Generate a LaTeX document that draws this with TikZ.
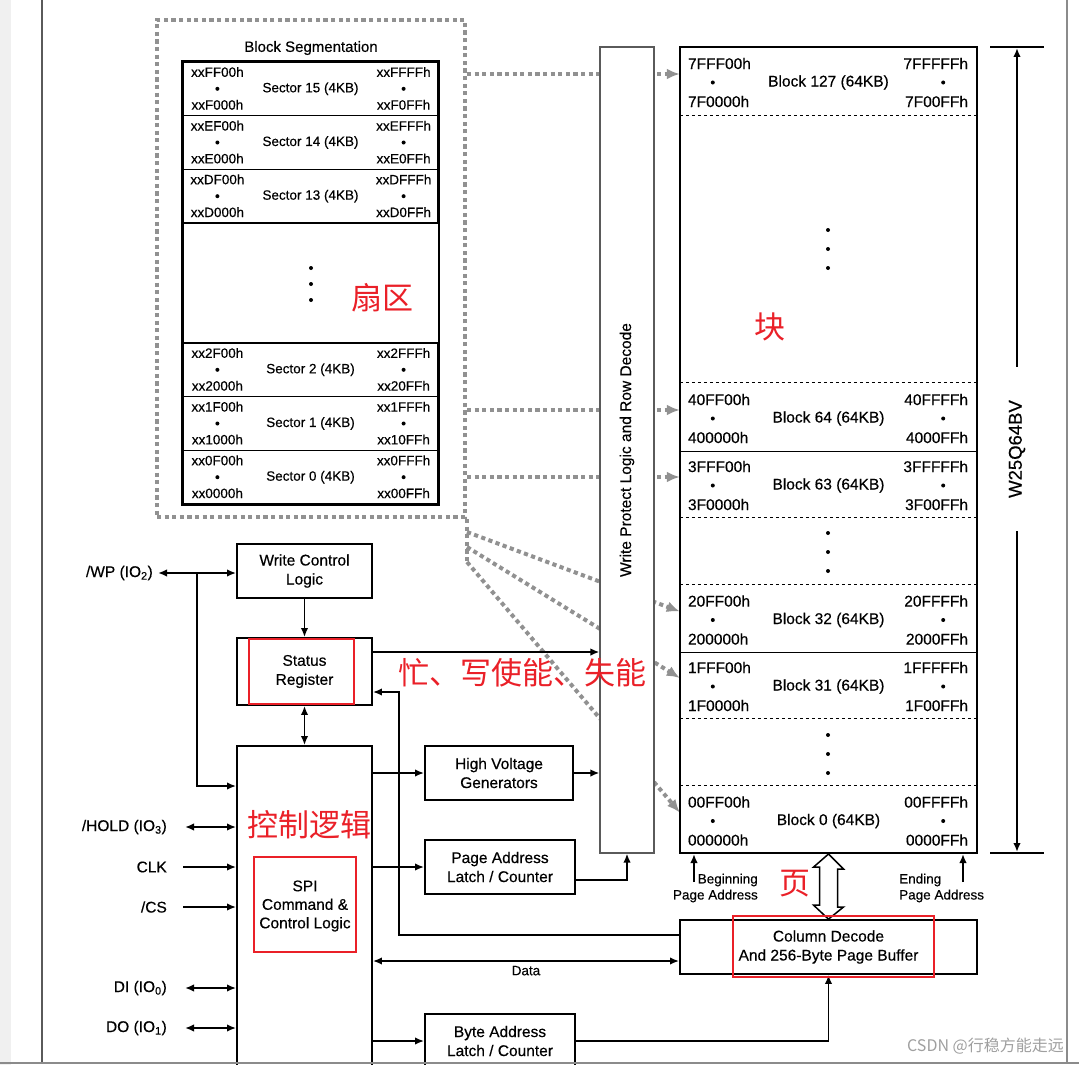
\documentclass[tikz,border=0pt]{standalone}
\usepackage{fontspec}
\setmainfont{Liberation Sans}[FakeBold=0.4]
\newfontfamily\cjk{Noto Sans CJK SC}
\usepackage{tikz}
\usetikzlibrary{arrows.meta,positioning,calc,backgrounds}
\definecolor{markred}{RGB}{234,32,40}
\definecolor{dotgray}{RGB}{145,145,145}
\definecolor{edgegray}{RGB}{90,90,90}
\definecolor{pagegray}{RGB}{240,240,240}
\tikzset{
  box/.style={draw,line width=1.8pt,fill=white,align=center,inner sep=0pt,
    font=\fontsize{15.5}{19}\selectfont},
  arr/.style={line width=1.8pt,-{Latex[length=9pt,width=7.5pt]}},
  dbl/.style={line width=1.8pt,{Latex[length=9pt,width=7.5pt]}-{Latex[length=9pt,width=7.5pt]}},
  dotline/.style={draw=dotgray,line width=4pt,dash pattern=on 4.2pt off 3.4pt},
  dotarr/.style={dotline,-{Latex[length=13pt,width=11pt]}},
  redbox/.style={draw=markred,line width=1.8pt,inner sep=0pt},
  redtxt/.style={text=markred,font=\cjk\fontsize{31}{34}\selectfont,inner sep=0pt},
  sectxt/.style={font=\fontsize{13.5}{16}\selectfont,inner sep=0pt},
  blktxt/.style={font=\fontsize{15.5}{18}\selectfont,inner sep=0pt},
  sigtxt/.style={font=\fontsize{15.5}{18}\selectfont,anchor=east,inner sep=0pt},
}

\begin{document}
\begin{tikzpicture}[x=1pt,y=-1pt]
\useasboundingbox (0,0) rectangle (1079,1065);
\fill[pagegray] (0,0) rectangle (11,1065);
\draw[edgegray,line width=1.3pt] (42,0) -- (42,1063);
\draw[edgegray!70,line width=1.2pt] (1067,0) -- (1067,1063);

\node[dotline,minimum width=308,minimum height=497,inner sep=0pt] (segbox) at (311,268.5) {};
\node[font=\fontsize{15}{17}\selectfont] (segtitle) at (311,48) {Block Segmentation};
\foreach \n/\h/\yc in {15/F/88.8,14/E/142.5,13/D/196.2,2/2/369.8,1/1/423.5,0/0/477.2}{
  \node[draw,line width=1.2pt,minimum width=255,minimum height=53.7,sectxt] (s\n) at (310.5,\yc) {Sector \n\ (4KB)};
  \node[sectxt] at ($(s\n.west)+(35,-16.8)$) {xx\h F00h};
  \node[sectxt] at ($(s\n.west)+(35,16)$) {xx\h 000h};
  \node[sectxt] at ($(s\n.east)+(-35,-16.8)$) {xx\h FFFh};
  \node[sectxt] at ($(s\n.east)+(-35,16)$) {xx\h 0FFh};
  \fill ($(s\n.west)+(35,0)$) circle (2pt) ($(s\n.east)+(-35,0)$) circle (2pt);
}
\draw[line width=2.2pt] (s15.north west) rectangle (s0.south east);
\foreach \y in {268,284,300} \fill (311,\y) circle (2pt);

\node[draw=edgegray,line width=1.2pt,fill=white,minimum width=54,minimum height=806,inner sep=0pt] (wpr) at (627,450) {};
\node[rotate=90,blktxt] at (wpr) {Write Protect Logic and Row Decode};

\node[draw,line width=2pt,fill=white,minimum width=297,minimum height=806,inner sep=0pt] (mem) at (828.5,450) {};
\foreach \bn/\pre/\yc/\hh in {127/7F/81/68,64/40/417/68,63/3F/484/66,32/20/618.5/67,31/1F/685/66,0/00/819.5/67}{
  \node[minimum width=297,minimum height=\hh,inner sep=0pt] (b\bn) at (828.5,\yc) {};
  \coordinate (a\bn) at ($(b\bn.west)+(0,-7)$);
  \node[blktxt] at ($(b\bn.center)+(0,1.5)$) {Block \bn\ (64KB)};
  \node[blktxt,anchor=west] at ($(b\bn.west)+(8,-17.5)$) {\pre FF00h};
  \node[blktxt,anchor=west] at ($(b\bn.west)+(8,20.5)$) {\pre 0000h};
  \node[blktxt,anchor=east] at ($(b\bn.east)+(-9,-17.5)$) {\pre FFFFh};
  \node[blktxt,anchor=east] at ($(b\bn.east)+(-9,20.5)$) {\pre 00FFh};
  \fill ($(b\bn.west)+(33,1.5)$) circle (2pt) ($(b\bn.east)+(-34,1.5)$) circle (2pt);
}
\draw[line width=0.9pt,dash pattern=on 3.5pt off 2.5pt]
  (b127.south west) -- (b127.south east) (b64.north west) -- (b64.north east)
  (b63.south west) -- (b63.south east) (b32.north west) -- (b32.north east)
  (b31.south west) -- (b31.south east) (b0.north west) -- (b0.north east);
\draw[line width=1.2pt] (b64.south west) -- (b64.south east) (b32.south west) -- (b32.south east);
\foreach \y in {230,249,268,533,552,571,735,754,773} \fill (828,\y) circle (2pt);

\begin{scope}[on background layer]
\draw[dotline] (segbox.south east) -- ++(0,43);
\draw[dotarr] (segbox.east |- a127) -- (a127);
\draw[dotarr] (segbox.east |- a64) -- (a64);
\draw[dotarr] (segbox.east |- a63) -- (a63);
\draw[dotarr] ($(segbox.south east)+(0,13)$) -- (a32);
\draw[dotarr] ($(segbox.south east)+(0,28)$) -- (a31);
\draw[dotarr] ($(segbox.south east)+(0,43)$) -- (a0);
\end{scope}

\node[box,minimum width=135,minimum height=54] (wcl) at (304.5,571) {Write Control\\Logic};
\node[box,minimum width=135,minimum height=67] (sr) at (304.5,671.5) {Status\\Register};
\node[box,minimum width=135,minimum height=354] (ctrl) at (304.5,923) {};
\node[align=center,font=\fontsize{15.5}{18.5}\selectfont] (spi) at (305,906) {SPI\\Command \&\\Control Logic};
\node[box,minimum width=148,minimum height=54] (hvg) at (499,773) {High Voltage\\Generators};
\node[box,minimum width=150,minimum height=54] (pal) at (500,867) {Page Address\\Latch / Counter};
\node[box,minimum width=150,minimum height=54] (bal) at (500,1041) {Byte Address\\Latch / Counter};
\node[box,minimum width=297,minimum height=54] (cdb) at (828.5,947) {Column Decode\\And 256-Byte Page Buffer};

\node[sigtxt] (wp) at (153,573) {/WP (IO\textsubscript{2})};
\node[sigtxt] (hold) at (167,827) {/HOLD (IO\textsubscript{3})};
\node[sigtxt] (clk) at (167,867) {CLK};
\node[sigtxt] (cs) at (167,907) {/CS};
\node[sigtxt] (di) at (167,988) {DI (IO\textsubscript{0})};
\node[sigtxt] (do) at (167,1028) {DO (IO\textsubscript{1})};

\draw[dbl] ([xshift=5pt]wp.east) -- (wp -| wcl.west);
\coordinate (wptap) at ($(wp.east)+(44,0)$);
\draw[arr] (wptap) |- (ctrl.west |- 0,786);
\draw[dbl] ([xshift=18pt]hold.east) -- (hold -| ctrl.west);
\draw[arr] ([xshift=16pt]clk.east) -- (clk -| ctrl.west);
\draw[arr] ([xshift=16pt]cs.east) -- (cs -| ctrl.west);
\draw[dbl] ([xshift=18pt]di.east) -- (di -| ctrl.west);
\draw[dbl] ([xshift=18pt]do.east) -- (do -| ctrl.west);

\draw[arr] (wcl.south) -- (sr.north);
\draw[dbl] (sr.south) -- (ctrl.north);
\draw[arr] (sr.east |- 0,652) -- (wpr.west |- 0,652);
\draw[arr] ($(cdb.west)+(0,-12)$) -| (399,692) -- (sr.east |- 0,692);
\draw[arr] (ctrl.east |- hvg.west) -- (hvg.west);
\draw[arr] (hvg.east) -- (hvg.east -| wpr.west);
\draw[arr] (ctrl.east |- pal.west) -- (pal.west);
\draw[arr] ($(pal.east)+(0,13)$) -| (wpr.south);
\draw[dbl] (ctrl.east |- 0,961) -- node[below=4pt,font=\fontsize{13.5}{16}\selectfont,inner sep=0pt] (data) {Data} (cdb.west |- 0,961);
\draw[arr] (ctrl.east |- bal.west) -- (bal.west);
\draw[arr] (bal.east) -| (cdb.south);

\draw[line width=1.5pt,fill=white] (mem.south) -- ++(15,15) -- ++(-6,0) -- ++(0,38) -- ++(6,0)
  -- (cdb.north) -- ++(-15,-14) -- ++(6,0) -- ++(0,-38) -- ++(-6,0) -- cycle;

\node[font=\fontsize{13.5}{16}\selectfont,align=right,anchor=east,inner sep=0pt] (begtxt) at (758,888) {Beginning\\Page Address};
\node[font=\fontsize{13.5}{16}\selectfont,align=left,anchor=west,inner sep=0pt] (endtxt) at (899,888) {Ending\\Page Address};
\coordinate (begarr) at (694,882);
\coordinate (endarr) at (963,882);
\draw[arr] (begarr) -- (begarr |- mem.south);
\draw[arr] (endarr) -- (endarr |- mem.south);

\draw[line width=1.5pt] (990,47) -- (1044,47) (990,853) -- (1044,853);
\node[rotate=90,font=\fontsize{18.5}{21}\selectfont] (chip) at (1017,449) {W25Q64BV};
\draw[arr] ($(chip.east)+(0,-30)$) -- (1017,48);
\draw[arr] ($(chip.west)+(0,30)$) -- (1017,852);

\node[redbox,minimum width=105,minimum height=65] (srmark) at (301.5,671.5) {};
\node[redbox,minimum width=102,minimum height=95] (spimark) at (305,904.5) {};
\node[redbox,minimum width=201,minimum height=61] (cdbmark) at (833.5,946.5) {};
\node[redtxt] (lsec) at (382,298) {扇区};
\node[redtxt] (lblk) at (770,327) {块};
\node[redtxt] (lsr) at (522,673) {忙、写使能、失能};
\node[redtxt] (lctl) at (309,825) {控制逻辑};
\node[redtxt] (lpage) at (795,884) {页};

\node[anchor=east,text=gray!75,font=\cjk\fontsize{16}{18}\selectfont,inner sep=0pt] (wm) at (1064,1046) {CSDN @行稳方能走远};
\draw[edgegray!70,line width=1.2pt] (0,1063) -- (1079,1063);
\end{tikzpicture}
\end{document}
